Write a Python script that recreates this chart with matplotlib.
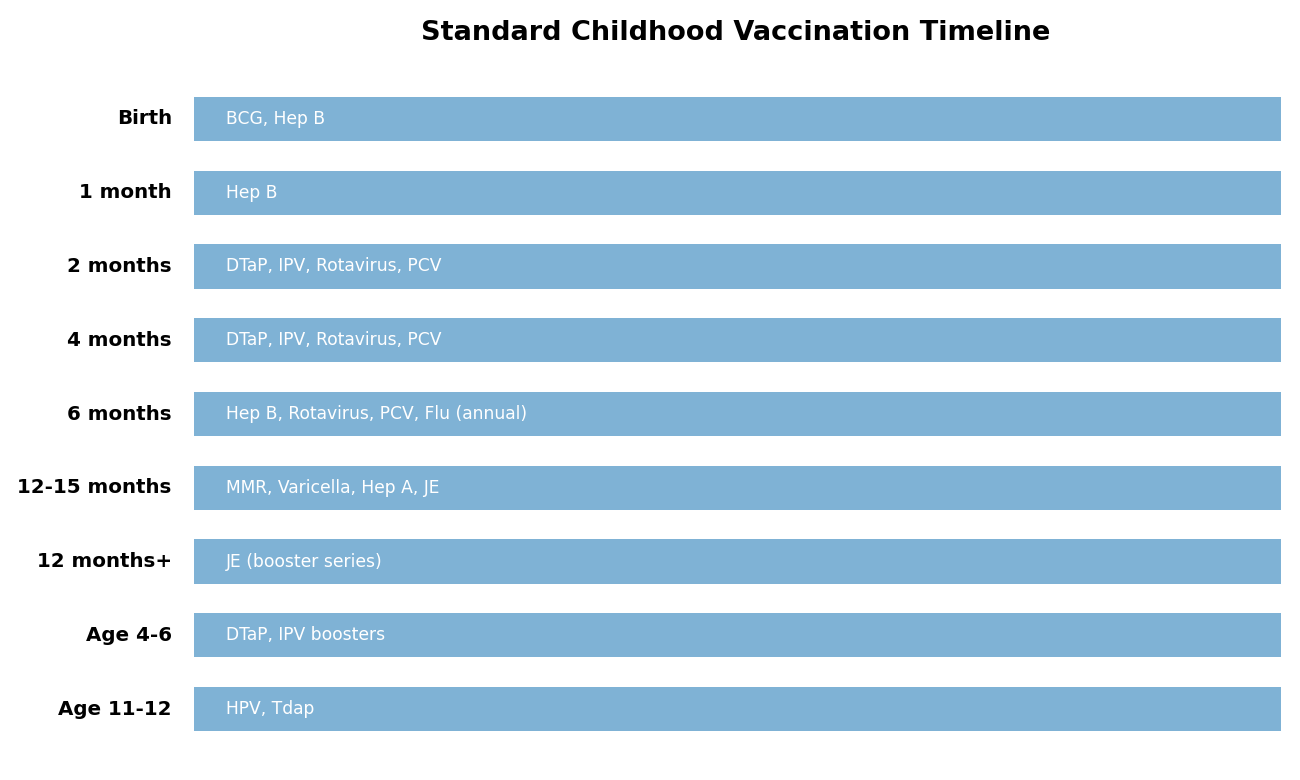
import matplotlib
matplotlib.use("Agg")
import matplotlib.pyplot as plt

ages = ["Birth", "1 month", "2 months", "4 months", "6 months",
        "12-15 months", "12 months+", "Age 4-6", "Age 11-12"]
vaccines = ["BCG, Hep B", "Hep B", "DTaP, IPV, Rotavirus, PCV",
            "DTaP, IPV, Rotavirus, PCV", "Hep B, Rotavirus, PCV, Flu (annual)",
            "MMR, Varicella, Hep A, JE", "JE (booster series)",
            "DTaP, IPV boosters", "HPV, Tdap"]
span = [1] * len(ages)

fig = plt.figure(figsize=(13, 7.8), dpi=100)
ax = fig.add_axes([194 / 1300, 1 - 746 / 780, 1087 / 1300, 664 / 780])

ypos = list(range(len(ages)))
ax.barh(ypos, span, height=0.6, color="#7fb2d5")
for y, txt in zip(ypos, vaccines):
    ax.text(0.029, y, txt, color="white", fontsize=12.3, va="center", ha="left")

ax.set_xlim(0, 1)
ax.set_ylim(len(ages) - 0.5, -0.5)
ax.set_yticks(ypos)
ax.set_yticklabels(ages, fontsize=14.3, fontweight="bold", va="center")
ax.tick_params(axis="y", length=0, pad=16)
ax.set_xticks([])
for s in ax.spines.values():
    s.set_visible(False)

fig.text(736 / 1300, 1 - 33 / 780, "Standard Childhood Vaccination Timeline",
         fontsize=19.5, fontweight="bold", ha="center", va="center")

fig.savefig("out.png", dpi=100)
